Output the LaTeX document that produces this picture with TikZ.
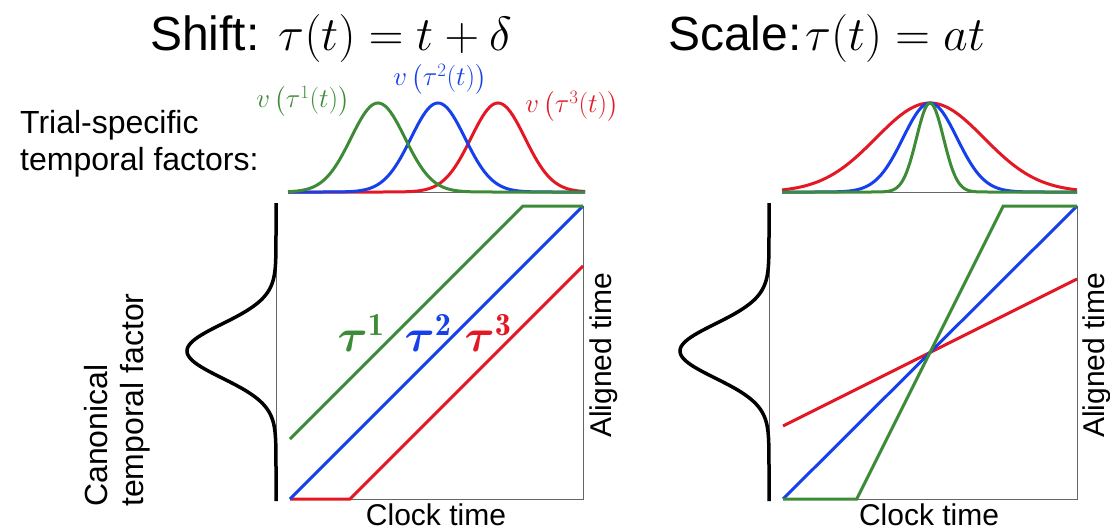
\RequirePackage{fix-cm}
\documentclass[tikz,border=0pt]{standalone}
\usepackage{amsmath}
\usepackage{fontspec}
\newfontfamily\arial{Liberation Sans}
\definecolor{cg}{RGB}{61,139,55}
\definecolor{cb}{RGB}{22,64,235}
\definecolor{cr}{RGB}{228,24,36}
\tikzset{
  curve/.style={line width=3pt},
  canon/.style={line width=3.5pt, black},
  axisline/.style={line width=0.9pt, gray!80!black},
  titletext/.style={font=\fontsize{48}{56}\selectfont, inner sep=0pt},
  taulab/.style={font=\fontsize{46}{54}\selectfont, inner sep=0pt},
  sanstext/.style={font=\arial\fontsize{30}{36}\selectfont, inner sep=0pt},
  sidetext/.style={font=\arial\fontsize{32}{38}\selectfont, inner sep=0pt},
  vlab/.style={font=\fontsize{27}{32}\selectfont, inner sep=0pt}
}
\begin{document}
\begin{tikzpicture}[x=1pt,y=-1pt]
\useasboundingbox (0,0) rectangle (1110,530);
% titles
\node[titletext, anchor=base west] (shift) at (150,50) {{\arial Shift:} $\tau(t)=t+\delta$};
\node[titletext, anchor=base west] (scale) at (668,50) {{\arial Scale:}\hspace{0.08em}$\tau(t)=at$};
% left side texts
\node[sidetext, anchor=base west] (trial1) at (20,133) {Trial-specific};
\node[sidetext, anchor=base west] (trial2) at (20,170) {temporal factors:};
\node[sidetext, anchor=base west, rotate=90] (canon1) at (107,507) {Canonical};
\node[sidetext, anchor=base west, rotate=90] (canon2) at (143,507) {temporal factor};
% labels of trial curves
\node[vlab, text=cg] (v1) at (303,101) {$v\left(\tau^1(t)\right)$};
\node[vlab, text=cb] (v2) at (440,79) {$v\left(\tau^2(t)\right)$};
\node[vlab, text=cr] (v3) at (572,106) {$v\left(\tau^3(t)\right)$};

% ---------- SHIFT panel ----------
% top trial curves
\draw[axisline] (288,192) -- (585,192);
\draw[curve, cr] plot[domain=288:585, samples=120] (\x, {192-89*exp(-0.5*((\x-498)/27)^2)});
\draw[curve, cb] plot[domain=288:585, samples=120] (\x, {192-89*exp(-0.5*((\x-438)/27)^2)});
\draw[curve, cg] plot[domain=288:585, samples=120] (\x, {192-89*exp(-0.5*((\x-378)/27)^2)});
% canonical factor
\draw[axisline] (276,206) -- (276,499);
\draw[canon] plot[domain=203:501, samples=150] ({276-89*exp(-0.5*((\x-351)/27)^2)}, \x);
% box
\coordinate (LBL) at (290,499);
\coordinate (LBR) at (583,499);
\coordinate (LTR) at (583,206);
\draw[axisline] (LBL) -- (LBR) -- (LTR);
% time warps
\draw[curve, cr] (LBL) -- (350,499) -- (583,266);
\draw[curve, cb] (LBL) -- (LTR);
\draw[curve, cg] (290,439) -- (523,206) -- (LTR);
\node[taulab, text=cg] (t1) at (361,333) {$\boldsymbol{\tau}^{\mathbf{1}}$};
\node[taulab, text=cb] (t2) at (428,333) {$\boldsymbol{\tau}^{\mathbf{2}}$};
\node[taulab, text=cr] (t3) at (488,333) {$\boldsymbol{\tau}^{\mathbf{3}}$};
\node[sanstext, anchor=base] (clock1) at (436,525) {Clock time};
\node[sanstext, anchor=base west, rotate=90] (align1) at (611,438) {Aligned time};

% ---------- SCALE panel ----------
\draw[axisline] (782,192) -- (1077,192);
\draw[curve, cr] plot[domain=782:1077, samples=120] (\x, {192-89*exp(-0.5*((\x-930)/54)^2)});
\draw[curve, cb] plot[domain=782:1077, samples=120] (\x, {192-89*exp(-0.5*((\x-930)/27)^2)});
\draw[curve, cg] plot[domain=782:1077, samples=160] (\x, {192-89*exp(-0.5*((\x-930)/13.5)^2)});
\draw[axisline] (769,206) -- (769,499);
\draw[canon] plot[domain=203:501, samples=150] ({769-89*exp(-0.5*((\x-351)/27)^2)}, \x);
\coordinate (RBL) at (783,499);
\coordinate (RBR) at (1077,499);
\coordinate (RTR) at (1077,206);
\draw[axisline] (RBL) -- (RBR) -- (RTR);
\draw[curve, cr] (783,426) -- (1077,279);
\draw[curve, cb] (RBL) -- (RTR);
\draw[curve, cg] (RBL) -- (856.75,499) -- (1003.25,206) -- (RTR);
\node[sanstext, anchor=base] (clock2) at (929,525) {Clock time};
\node[sanstext, anchor=base west, rotate=90] (align2) at (1104,438) {Aligned time};
\end{tikzpicture}
\end{document}
